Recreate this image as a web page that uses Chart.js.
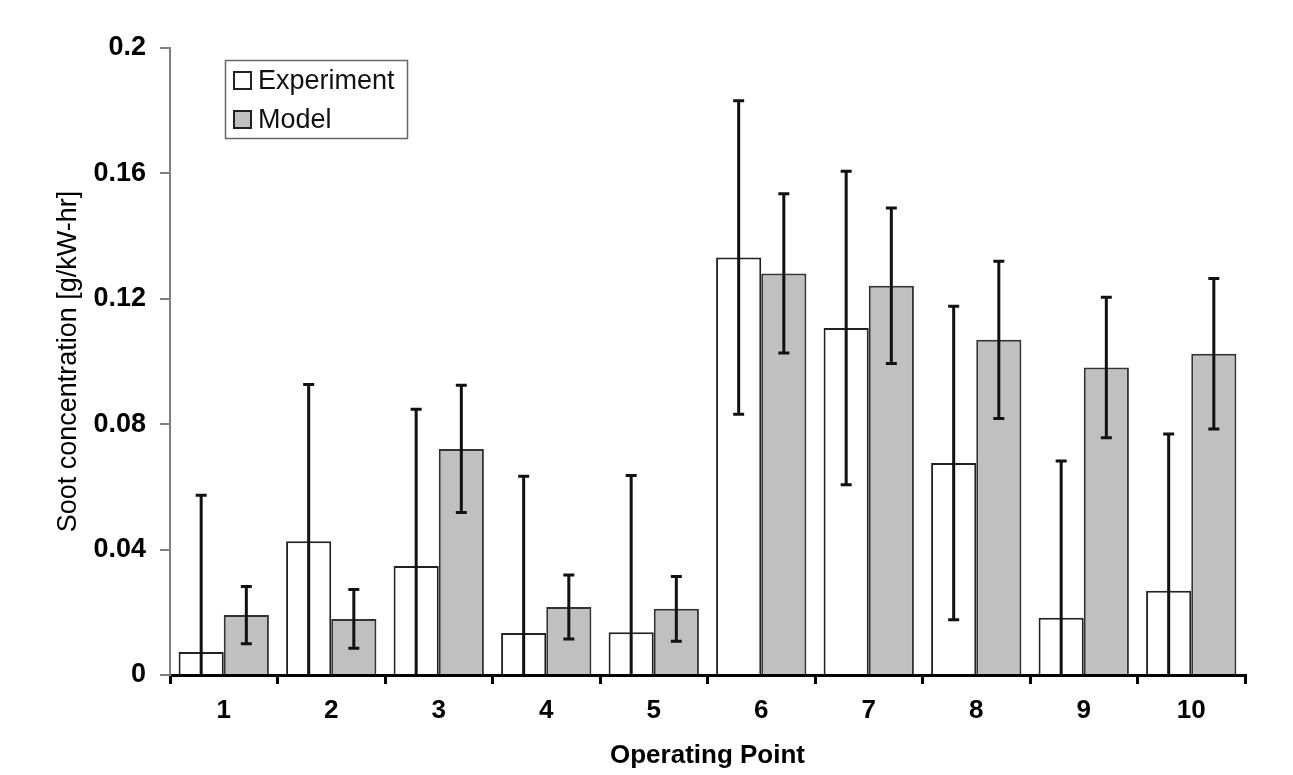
<!DOCTYPE html>
<html>
<head>
<meta charset="utf-8">
<script src="https://cdn.jsdelivr.net/npm/chart.js@4.4.1/dist/chart.umd.min.js"></script>
<style>
  html, body { margin: 0; padding: 0; background: #ffffff; }
  #wrap { width: 1293px; height: 775px; }
</style>
</head>
<body>
<div id="wrap"><canvas id="c" width="1293" height="775"></canvas></div>
<script>
const categories = ['1', '2', '3', '4', '5', '6', '7', '8', '9', '10'];
const experiment = [0.0073, 0.0427, 0.0348, 0.0134, 0.0136, 0.1332, 0.1107, 0.0676, 0.0183, 0.0269];
const experimentErr = [0.050, 0.050, 0.050, 0.050, 0.050, 0.050, 0.050, 0.050, 0.050, 0.050];
const model = [0.0191, 0.0179, 0.0721, 0.0217, 0.0211, 0.1281, 0.1242, 0.1069, 0.0981, 0.1025];
const modelErr = [0.0091, 0.0094, 0.0203, 0.0102, 0.0103, 0.0254, 0.0248, 0.0251, 0.0224, 0.0240];
const yTickLabels = ['0', '0.04', '0.08', '0.12', '0.16', '0.2'];
const seriesNames = ['Experiment', 'Model'];

const FONT = '"Liberation Sans", Arial, Helvetica, sans-serif';

const errorBarPlugin = {
  id: 'errorBars',
  afterDatasetsDraw(chart) {
    const ctx = chart.ctx;
    const yScale = chart.scales.y;
    const errs = [experimentErr, modelErr];
    ctx.save();
    ctx.strokeStyle = '#111';
    ctx.lineWidth = 3;
    ctx.lineCap = 'butt';
    chart.data.datasets.forEach((ds, i) => {
      const meta = chart.getDatasetMeta(i);
      meta.data.forEach((el, j) => {
        const v = ds.data[j];
        const e = errs[i][j];
        const x = el.x;
        const hiV = v + e;
        const loV = v - e;
        const yHi = yScale.getPixelForValue(hiV);
        const yLo = yScale.getPixelForValue(Math.max(loV, yScale.min));
        const cap = 5.5;
        ctx.beginPath();
        ctx.moveTo(x, yHi);
        ctx.lineTo(x, yLo);
        ctx.moveTo(x - cap, yHi);
        ctx.lineTo(x + cap, yHi);
        if (loV >= yScale.min) {
          ctx.moveTo(x - cap, yLo);
          ctx.lineTo(x + cap, yLo);
        }
        ctx.stroke();
      });
    });
    ctx.restore();
  }
};

const legendPlugin = {
  id: 'boxLegend',
  afterDraw(chart) {
    const ctx = chart.ctx;
    ctx.save();
    ctx.strokeStyle = '#666';
    ctx.lineWidth = 1.5;
    ctx.strokeRect(225.5, 60.5, 182, 78);
    const items = [
      { name: seriesNames[0], fill: '#ffffff', y: 81 },
      { name: seriesNames[1], fill: '#c0c0c0', y: 120 }
    ];
    ctx.font = '27px ' + FONT;
    ctx.textBaseline = 'middle';
    ctx.textAlign = 'left';
    items.forEach(it => {
      ctx.fillStyle = it.fill;
      ctx.fillRect(234, it.y - 9, 17, 17);
      ctx.strokeStyle = '#222';
      ctx.lineWidth = 2;
      ctx.strokeRect(234, it.y - 9, 17, 17);
      ctx.fillStyle = '#111';
      ctx.fillText(it.name, 258, it.y + 1);
    });
    ctx.restore();
  }
};

new Chart(document.getElementById('c'), {
  type: 'bar',
  data: {
    labels: categories,
    datasets: [
      {
        label: seriesNames[0],
        data: experiment,
        backgroundColor: '#ffffff',
        borderColor: '#222',
        borderWidth: 2,
        borderSkipped: 'bottom'
      },
      {
        label: seriesNames[1],
        data: model,
        backgroundColor: '#c0c0c0',
        borderColor: '#333',
        borderWidth: 2,
        borderSkipped: 'bottom'
      }
    ]
  },
  options: {
    responsive: false,
    animation: false,
    devicePixelRatio: 1,
    layout: { padding: { left: 0, right: 48, top: 48, bottom: 0 } },
    datasets: { bar: { categoryPercentage: 0.84, barPercentage: 1.0 } },
    plugins: {
      legend: { display: false },
      tooltip: { enabled: false },
      title: { display: false }
    },
    scales: {
      x: {
        offset: true,
        grid: {
          display: true,
          offset: true,
          drawOnChartArea: false,
          drawTicks: true,
          tickLength: 9,
          color: '#000',
          lineWidth: 3
        },
        border: { display: true, color: '#000', width: 3 },
        ticks: {
          color: '#000',
          font: { family: FONT, size: 26, weight: 'bold' },
          padding: 11,
          maxRotation: 0
        },
        title: {
          display: true,
          text: 'Operating Point',
          color: '#000',
          font: { family: FONT, size: 26, weight: 'bold' },
          padding: { top: 0, bottom: 4 }
        },
        afterFit(scale) { scale.height = 100; }
      },
      y: {
        min: 0,
        max: 0.2,
        grid: {
          display: true,
          drawOnChartArea: false,
          drawTicks: true,
          tickLength: 10,
          color: '#808080',
          lineWidth: 2
        },
        border: { display: true, color: '#808080', width: 2 },
        ticks: {
          stepSize: 0.04,
          color: '#000',
          font: { family: FONT, size: 27, weight: 'bold' },
          padding: 14,
          callback: (v, i) => yTickLabels[i]
        },
        title: {
          display: true,
          text: 'Soot concentration [g/kW-hr]',
          color: '#000',
          font: { family: FONT, size: 27, weight: 'normal' },
          padding: { top: 52, bottom: 0 }
        },
        afterFit(scale) { scale.width = 170; }
      }
    }
  },
  plugins: [errorBarPlugin, legendPlugin]
});
</script>
</body>
</html>
